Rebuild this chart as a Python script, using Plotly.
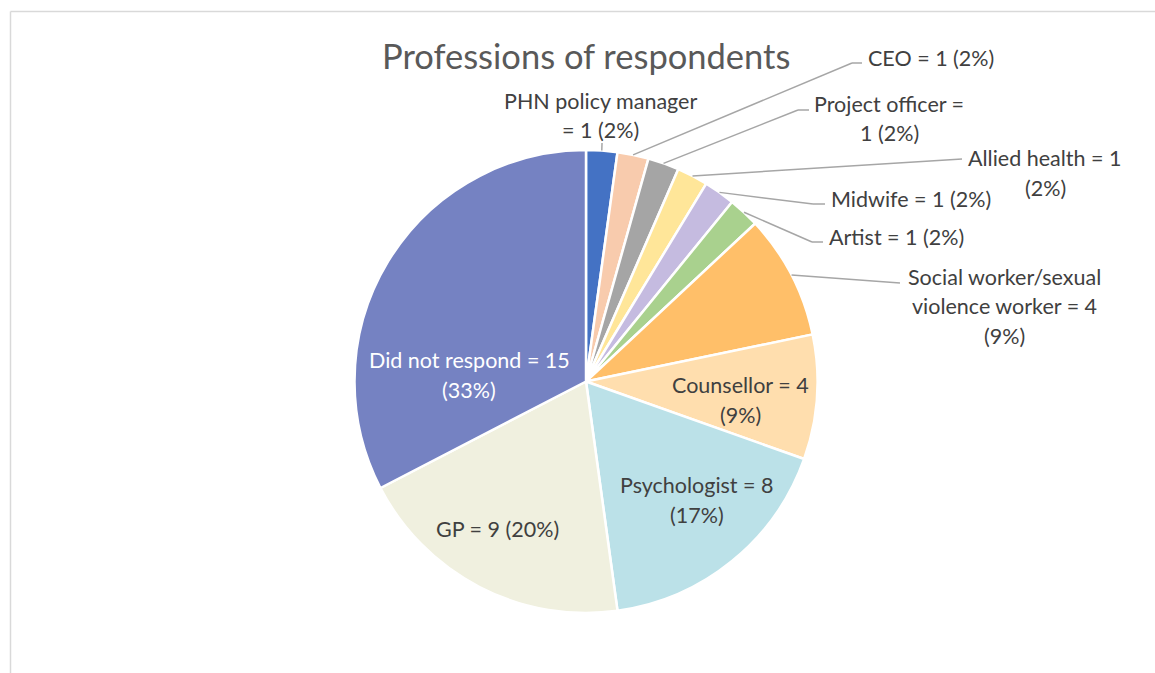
import math
import plotly.graph_objects as go

# ---- data ----
professions = ["PHN policy manager", "CEO", "Project officer", "Allied health", "Midwife",
               "Artist", "Social worker/sexual violence worker", "Counsellor",
               "Psychologist", "GP", "Did not respond"]
counts = [1, 1, 1, 1, 1, 1, 4, 4, 8, 9, 15]
label_texts = [
    "PHN policy manager\n= 1 (2%)",
    "CEO = 1 (2%)",
    "Project officer =\n1 (2%)",
    "Allied health = 1\n(2%)",
    "Midwife = 1 (2%)",
    "Artist = 1 (2%)",
    "Social worker/sexual\nviolence worker = 4\n(9%)",
    "Counsellor = 4\n(9%)",
    "Psychologist = 8\n(17%)",
    "GP = 9 (20%)",
    "Did not respond = 15\n(33%)",
]
colors = ["#4472C4", "#F8CBAD", "#A5A5A5", "#FFE699", "#C5BBE0", "#A9D18E",
          "#FFBF69", "#FFDEAE", "#BBE1E8", "#F0F0DF", "#7582C2"]
title_text = "Professions of respondents"

# ---- layout (pixels) ----
W, H = 1155, 673
CX, CY, R = 586, 381.5, 231.5
FONT = "Lato, Open Sans, sans-serif"
LABEL_SIZE = 21.5

# label placement: (anchor x, first line y, xanchor, elbow point or None, line end point)
placements = [
    (600, 101, "center", None, (602, 143)),
    (866, 58, "left", (852, 63), (862, 63)),
    (812, 104, "left", (798, 110), (809, 110)),
    (966, 158, "left", None, (962, 159)),
    (829, 199, "left", (813, 204), (825, 204)),
    (827, 237, "left", (812, 242), (823, 242)),
    (1004, 277, "center", None, (900, 283)),
    (740, 385, "center", None, None),
    (697, 485, "center", None, None),
    (497, 529, "center", None, None),
    (469, 360, "center", None, None),
]
# continuation lines centred under the first line
centre_fix = {2: 889, 3: 1045}
LINE_STEP = 29.5


def px(x):
    return x / W


def py(y):
    return 1 - y / H


fig = go.Figure()
fig.add_trace(go.Pie(
    labels=professions, values=counts, sort=False, direction="clockwise", rotation=0,
    marker=dict(colors=colors, line=dict(color="white", width=2.5)),
    textinfo="none", hoverinfo="skip", showlegend=False,
    domain=dict(x=[px(CX - R), px(CX + R)], y=[py(CY + R), py(CY - R)]),
))

total = sum(counts)
cum = 0
shapes = []
annotations = []
for i, (v, txt) in enumerate(zip(counts, label_texts)):
    mid = (cum + v / 2) / total * 2 * math.pi
    cum += v
    ax, ay, xanc, elbow, end = placements[i]
    if end is not None:
        sx = CX + R * math.sin(mid)
        sy = CY - R * math.cos(mid)
        pts = [(sx, sy)] + ([elbow] if elbow else []) + [end]
        for (x0, y0), (x1, y1) in zip(pts[:-1], pts[1:]):
            shapes.append(dict(type="line", xref="paper", yref="paper",
                               x0=px(x0), y0=py(y0), x1=px(x1), y1=py(y1),
                               line=dict(color="#A6A6A6", width=1.5)))
    color = "white" if professions[i] == "Did not respond" else "#404040"
    for j, ln in enumerate(txt.split("\n")):
        lx, anc = ax, xanc
        if j > 0 and i in centre_fix:
            lx, anc = centre_fix[i], "center"
        annotations.append(dict(
            text=ln, xref="paper", yref="paper", showarrow=False,
            x=px(lx), y=py(ay + j * LINE_STEP),
            xanchor=anc, yanchor="middle",
            font=dict(family=FONT, size=LABEL_SIZE, color=color),
        ))

annotations.append(dict(
    text=title_text, xref="paper", yref="paper", showarrow=False,
    x=px(586), y=py(55), xanchor="center", yanchor="middle",
    font=dict(family=FONT, size=34.5, color="#595959"),
))

# chart frame
shapes.append(dict(type="line", xref="paper", yref="paper", x0=px(10.5), y0=py(11.5),
                   x1=1, y1=py(11.5), line=dict(color="#D9D9D9", width=1.5)))
shapes.append(dict(type="line", xref="paper", yref="paper", x0=px(10.5), y0=py(11.5),
                   x1=px(10.5), y1=0, line=dict(color="#D9D9D9", width=1.5)))

fig.update_layout(
    width=W, height=H, margin=dict(l=0, r=0, t=0, b=0),
    paper_bgcolor="white", plot_bgcolor="white",
    shapes=shapes, annotations=annotations,
)
fig.write_html("out.html", config={"displayModeBar": False},
               post_script="document.body.style.margin='0';")
